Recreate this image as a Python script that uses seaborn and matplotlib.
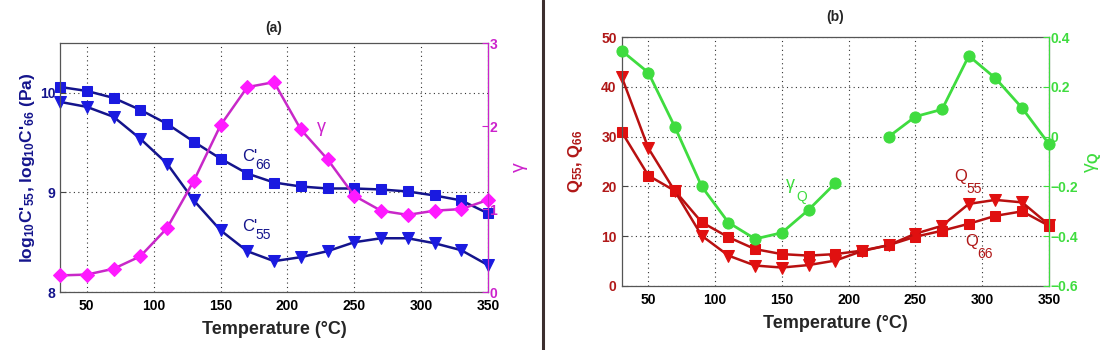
import numpy as np
import pandas as pd
import matplotlib
matplotlib.use("Agg")
import matplotlib.pyplot as plt
from matplotlib.lines import Line2D
import seaborn as sns

# %% data
temp = [30, 50, 70, 90, 110, 130, 150, 170, 190, 210, 230, 250, 270, 290, 310, 330, 350]

# panel (a)
c66 = [10.06, 10.02, 9.95, 9.83, 9.69, 9.51, 9.34, 9.19, 9.10, 9.06, 9.04, 9.04, 9.03, 9.01, 8.97, 8.92, 8.79]
c55 = [9.91, 9.86, 9.76, 9.54, 9.29, 8.92, 8.62, 8.41, 8.31, 8.35, 8.41, 8.50, 8.54, 8.54, 8.49, 8.42, 8.27]
gamma = [0.20, 0.21, 0.28, 0.43, 0.77, 1.34, 2.01, 2.47, 2.53, 1.96, 1.60, 1.16, 0.98, 0.93, 0.98, 1.00, 1.11]

# panel (b)
q55 = [42.1, 27.7, 19.0, 10.1, 6.1, 4.1, 3.7, 4.2, 5.1, 7.0, 8.2, 10.5, 12.1, 16.5, 17.3, 16.8, 12.3]
q66 = [31.0, 22.2, 19.1, 12.8, 9.8, 7.4, 6.4, 6.1, 6.4, 7.1, 8.2, 9.9, 11.1, 12.5, 14.1, 15.0, 12.1]
gamma_q = [0.346, 0.258, 0.038, -0.20, -0.345, -0.411, -0.386, -0.294, -0.187, np.nan,
           0.0, 0.081, 0.11, 0.325, 0.235, 0.115, -0.029]

df = pd.DataFrame({'T': temp, 'c66': c66, 'c55': c55, 'gamma': gamma,
                   'q55': q55, 'q66': q66, 'gq': gamma_q})
# gamma_Q has a gap at 210 C -> two separate line segments
df['seg'] = (df['T'] > 210).astype(int)

# %% style
sns.set_style("white")
plt.rcParams['font.family'] = ['Liberation Sans', 'DejaVu Sans']
plt.rcParams['mathtext.fontset'] = 'custom'
plt.rcParams['mathtext.rm'] = 'Liberation Sans:bold'
plt.rcParams['mathtext.bf'] = 'Liberation Sans:bold'
plt.rcParams['mathtext.it'] = 'Liberation Sans:bold'
plt.rcParams['mathtext.default'] = 'bf'
plt.rcParams['xtick.direction'] = 'in'
plt.rcParams['ytick.direction'] = 'in'

navy = '#14148c'
blue = '#1a1ae0'
mag_line = '#c828c8'
mag = '#ff1aff'
mag_txt = '#cc22cc'
red_line = '#b81010'
red = '#e01010'
dred = '#b01818'
green = '#3fdc3f'

fig = plt.figure(figsize = (11.18, 3.5), dpi = 100)
ax1 = fig.add_axes([0.0537, 0.1657, 0.3828, 0.711])
ax3 = fig.add_axes([0.556, 0.183, 0.3822, 0.7106])


def style_axes(ax, left_col, right_ax, right_col):
    ax.set_xlim(30, 350)
    ax.set_xticks([50, 100, 150, 200, 250, 300, 350])
    ax.grid(True, linestyle = (0, (1, 3)), color = '#333333', linewidth = 0.8)
    ax.tick_params(axis = 'x', labelsize = 10, colors = '#444444', labelcolor = 'black', length = 4, width = 0.8, pad = 5)
    ax.tick_params(axis = 'y', labelsize = 10, colors = '#444444', labelcolor = left_col, length = 4, width = 0.8)
    for lab in ax.get_xticklabels() + ax.get_yticklabels():
        lab.set_fontweight('bold')
    for s in ax.spines.values():
        s.set_color('#555555')
        s.set_linewidth(0.9)
    right_ax.tick_params(axis = 'y', labelsize = 10, colors = right_col, length = 4, width = 0.8, pad = 1)
    for lab in right_ax.get_yticklabels():
        lab.set_fontweight('bold')
    right_ax.spines['right'].set_color(right_col)
    for s in ['left', 'top', 'bottom']:
        right_ax.spines[s].set_visible(False)
    ax.set_xlabel('Temperature (°C)', fontsize = 13, fontweight = 'bold', labelpad = 6)
    for a in [ax, right_ax]:
        for ln in a.get_lines():
            ln.set_clip_on(False)


# %% panel (a)
ax2 = ax1.twinx()
sns.lineplot(data = df, x = 'T', y = 'c66', ax = ax1, color = navy, marker = 's', markersize = 7,
             markerfacecolor = blue, markeredgecolor = blue, linewidth = 1.8)
sns.lineplot(data = df, x = 'T', y = 'c55', ax = ax1, color = navy, marker = 'v', markersize = 9,
             markerfacecolor = blue, markeredgecolor = blue, linewidth = 1.8)
sns.lineplot(data = df, x = 'T', y = 'gamma', ax = ax2, color = mag_line, marker = 'D', markersize = 7.5,
             markerfacecolor = mag, markeredgecolor = mag, linewidth = 1.8)
ax1.set_ylim(8, 10.5)
ax1.set_yticks([8, 9, 10])
ax2.set_ylim(0, 3)
ax2.set_yticks([0, 1, 2, 3])
style_axes(ax1, navy, ax2, mag_txt)
ax1.set_ylabel(r"log$_{10}$C'$_{55}$, log$_{10}$C'$_{66}$ (Pa)", fontsize = 12.5, fontweight = 'bold', color = navy, labelpad = 2)
ax2.set_ylabel('γ', fontsize = 14, color = mag_txt, labelpad = 10)
ax1.set_title('(a)', fontsize = 10, fontweight = 'bold', pad = 8)
ax1.text(166, 9.32, "C'", fontsize = 12, color = navy)
ax1.text(176, 9.24, "66", fontsize = 10, color = navy)
ax1.text(166, 8.61, "C'", fontsize = 12, color = navy)
ax1.text(176, 8.53, "55", fontsize = 10, color = navy)
ax2.text(222, 1.93, 'γ', fontsize = 13, color = mag_txt)

# %% panel (b)
ax4 = ax3.twinx()
sns.lineplot(data = df, x = 'T', y = 'q66', ax = ax3, color = red_line, marker = 's', markersize = 7,
             markerfacecolor = red, markeredgecolor = red, linewidth = 1.8)
sns.lineplot(data = df, x = 'T', y = 'q55', ax = ax3, color = red_line, marker = 'v', markersize = 9,
             markerfacecolor = red, markeredgecolor = red, linewidth = 1.8)
sns.lineplot(data = df.dropna(subset = ['gq']), x = 'T', y = 'gq', units = 'seg', estimator = None, ax = ax4,
             color = green, marker = 'o', markersize = 8, markerfacecolor = green, markeredgecolor = green,
             linewidth = 2)
ax3.set_ylim(0, 50)
ax3.set_yticks([0, 10, 20, 30, 40, 50])
ax4.set_ylim(-0.6, 0.4)
ax4.set_yticks([-0.6, -0.4, -0.2, 0, 0.2, 0.4])
ax4.set_yticklabels(['\u22120.6', '\u22120.4', '\u22120.2', '0', '0.2', '0.4'])
style_axes(ax3, dred, ax4, green)
ax3.set_ylabel(r"Q$_{55}$, Q$_{66}$", fontsize = 12, fontweight = 'bold', color = dred, labelpad = 12)
ax4.set_ylabel(r"γ$_{Q}$", fontsize = 14, color = green, labelpad = 4)
ax3.set_title('(b)', fontsize = 10, fontweight = 'bold', pad = 12)
ax3.text(153, 19.5, 'γ', fontsize = 13, color = green)
ax3.text(161, 17.0, 'Q', fontsize = 10, color = green)
ax3.text(279, 21.0, 'Q', fontsize = 12, color = dred)
ax3.text(288, 18.6, '55', fontsize = 10, color = dred)
ax3.text(287, 8.0, 'Q', fontsize = 12, color = dred)
ax3.text(296, 5.6, '66', fontsize = 10, color = dred)

# separator between panels
fig.add_artist(Line2D([543 / 1118, 543 / 1118], [0, 1], color = '#3c2e2e', linewidth = 2.2))

plt.savefig('out.png', dpi = 100)
